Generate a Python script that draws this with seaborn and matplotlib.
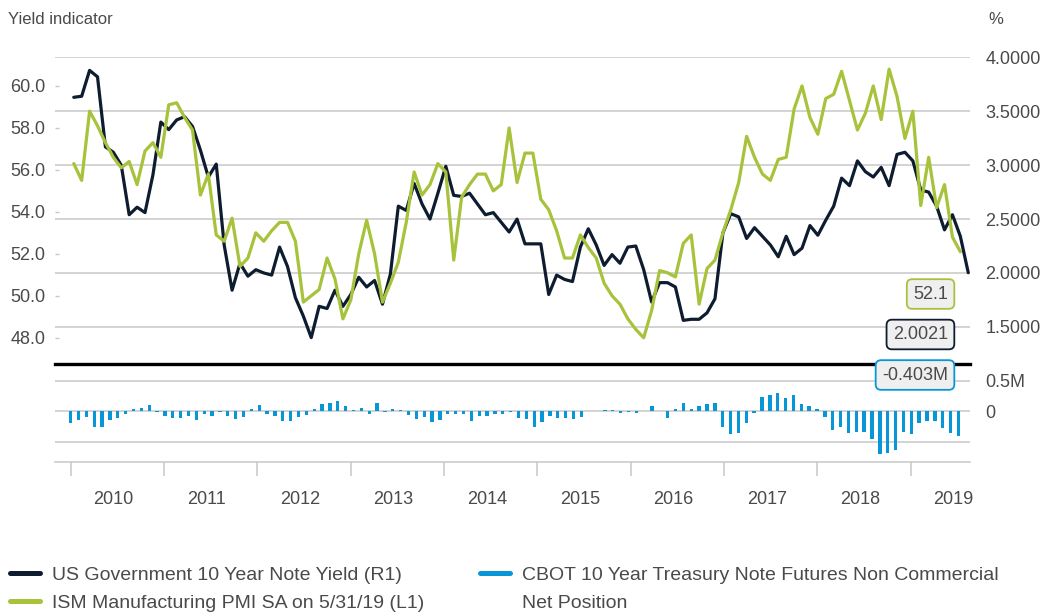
import numpy as np
import matplotlib
matplotlib.use("Agg")
import matplotlib.pyplot as plt
from matplotlib.lines import Line2D
from matplotlib.ticker import FixedLocator
import seaborn as sns

# Monthly values, first point = Jan 2010
# ISM Manufacturing PMI SA (left axis)
pmi = [
    56.3, 55.5, 58.8, 58.1, 57.3, 56.6, 56.1, 56.4, 55.3, 56.9, 57.3, 56.6,
    59.1, 59.2, 58.5, 57.9, 54.8, 55.8, 52.9, 52.6, 53.7, 51.4, 51.8, 53.0,
    52.6, 53.1, 53.5, 53.5, 52.6, 49.7, 50.0, 50.3, 51.8, 50.8, 48.9, 49.8,
    52.0, 53.6, 52.0, 49.7, 50.6, 51.6, 53.5, 55.9, 54.8, 55.3, 56.3, 55.9,
    51.7, 54.7, 55.3, 55.8, 55.8, 55.0, 55.3, 58.0, 55.4, 56.8, 56.8, 54.6,
    54.1, 53.1, 51.8, 51.8, 52.9, 52.3, 51.8, 50.6, 50.0, 49.6, 48.9, 48.4,
    48.0, 49.3, 51.2, 51.1, 50.9, 52.5, 52.9, 49.6, 51.3, 51.7, 53.0, 54.1,
    55.4, 57.6, 56.6, 55.8, 55.5, 56.5, 56.6, 58.9, 60.0, 58.5, 57.7, 59.4,
    59.6, 60.7, 59.3, 57.9, 58.7, 60.0, 58.4, 60.8, 59.5, 57.5, 58.8, 54.3,
    56.6, 54.2, 55.3, 52.8, 52.1,
]

# US Government 10 Year Note Yield, % (right axis)
yield_10y = [
    3.63, 3.64, 3.88, 3.82, 3.17, 3.12, 3.00, 2.54, 2.61, 2.56, 2.91, 3.40,
    3.33, 3.42, 3.45, 3.36, 3.14, 2.89, 3.01, 2.26, 1.84, 2.09, 1.97, 2.03,
    2.00, 1.98, 2.24, 2.06, 1.77, 1.60, 1.40, 1.69, 1.67, 1.84, 1.69, 1.80,
    1.96, 1.87, 1.93, 1.71, 1.99, 2.62, 2.58, 2.83, 2.64, 2.50, 2.74, 2.99,
    2.72, 2.71, 2.74, 2.64, 2.54, 2.56, 2.47, 2.38, 2.50, 2.27, 2.27, 2.27,
    1.80, 1.98, 1.94, 1.92, 2.24, 2.41, 2.26, 2.07, 2.17, 2.09, 2.24, 2.25,
    2.03, 1.73, 1.91, 1.91, 1.87, 1.56, 1.57, 1.57, 1.63, 1.76, 2.37, 2.55,
    2.52, 2.32, 2.42, 2.34, 2.26, 2.15, 2.34, 2.17, 2.23, 2.44, 2.35, 2.49,
    2.62, 2.88, 2.81, 3.04, 2.94, 2.89, 2.98, 2.81, 3.10, 3.12, 3.04, 2.77,
    2.75, 2.62, 2.40, 2.54, 2.34, 2.0021,
]

# CBOT 10 Year Treasury Note Futures Non Commercial Net Position, millions
cbot_net = [
    -0.19, -0.14, -0.10, -0.25, -0.25, -0.14, -0.11, -0.05, 0.03, 0.06, 0.10, -0.01,
    -0.08, -0.11, -0.11, -0.08, -0.15, -0.05, -0.07, -0.01, -0.08, -0.13, -0.10, 0.03,
    0.10, -0.05, -0.07, -0.16, -0.16, -0.10, -0.06, 0.04, 0.12, 0.14, 0.16, 0.08,
    0.02, 0.06, -0.05, 0.14, -0.01, 0.04, 0.02, -0.06, -0.13, -0.10, -0.18, -0.14,
    -0.05, -0.05, -0.05, -0.16, -0.08, -0.08, -0.05, -0.05, -0.005, -0.115, -0.13, -0.26,
    -0.18, -0.07, -0.115, -0.115, -0.13, -0.10, 0.01, 0.01, 0.02, 0.02, -0.03, -0.01,
    -0.03, 0.01, 0.08, 0.01, -0.115, 0.04, 0.14, 0.03, 0.08, 0.11, 0.14, -0.26,
    -0.37, -0.35, -0.20, -0.03, 0.24, 0.27, 0.30, 0.21, 0.26, 0.11, 0.08, 0.04,
    -0.10, -0.30, -0.26, -0.36, -0.34, -0.34, -0.46, -0.69, -0.68, -0.63, -0.34, -0.37,
    -0.20, -0.165, -0.165, -0.28, -0.35, -0.403,
]

years = list(range(2010, 2020))
pmi_ticks = [48, 50, 52, 54, 56, 58, 60]
yield_ticks = [1.5, 2.0, 2.5, 3.0, 3.5, 4.0]
net_ticks = [-0.5, 0, 0.5]
net_tick_labels = ["", "0", "0.5M"]

NAVY = "#0e1c30"
GREEN = "#a7c23b"
BLUE = "#0796d6"
GRID = "#c8c8c8"
TXT = "#4a4a4a"

sns.set_theme(style="white")
plt.rcParams["font.family"] = ["Liberation Sans", "DejaVu Sans"]

W, H = 1047, 612
fig = plt.figure(figsize=(W / 100, H / 100), dpi=100)

# points are spaced a bit tighter than a calendar month on this axis
line_x = 2010.033 + np.arange(len(yield_10y)) / 11.79
bar_x = 2010.0 + np.arange(len(cbot_net)) / 11.88
xlim = (2009.832, 2019.636)

def px(x, y):
    return x / W, 1 - y / H

# ---- bottom panel first so the black divider sits on top of it ----
ax_b = fig.add_axes([55 / W, 1 - 461.5 / H, 915 / W, 97.5 / H])
ax_b.patch.set_visible(False)
ax_b.bar(bar_x, cbot_net, width=0.036, color=BLUE, linewidth=0)
ax_b.set_xlim(*xlim)
ax_b.set_ylim(-0.82, 0.77)
ax_b.set_yticks(net_ticks)
ax_b.set_yticklabels(net_tick_labels)
ax_b.yaxis.tick_right()
ax_b.tick_params(axis="y", length=0, pad=11, labelsize=13, labelcolor=TXT)
ax_b.grid(axis="y", color=GRID, linewidth=1.1)
ax_b.set_axisbelow(True)
for s in ["top", "left", "right"]:
    ax_b.spines[s].set_visible(False)
ax_b.spines["bottom"].set_color(GRID)
ax_b.spines["bottom"].set_linewidth(1.1)

ax_b.xaxis.set_major_locator(FixedLocator(years))
ax_b.xaxis.set_minor_locator(FixedLocator([y + 0.46 for y in years]))
ax_b.set_xticklabels([""] * len(years))
ax_b.set_xticklabels([str(y) for y in years], minor=True)
ax_b.tick_params(axis="x", which="major", direction="out", length=10,
                 width=1.1, color=GRID, bottom=True)
ax_b.tick_params(axis="x", which="minor", length=0, pad=21, labelsize=13,
                 labelcolor=TXT, bottom=True)

# ---- top panel: yield (right) + PMI (left) ----
ax_y = fig.add_axes([55 / W, 1 - 364 / H, 915 / W, 307 / H])
ax_y.patch.set_visible(False)
ax_p = ax_y.twinx()

sns.lineplot(x=line_x, y=yield_10y, ax=ax_y, color=NAVY, linewidth=2.3,
             legend=False)
sns.lineplot(x=line_x[:len(pmi)], y=pmi, ax=ax_p, color=GREEN, linewidth=2.3,
             legend=False)

ax_y.set_xlim(*xlim)
ax_y.set_ylim(1.155, 4.004)
ax_y.set_yticks(yield_ticks)
ax_y.set_yticklabels([f"{v:.4f}" for v in yield_ticks])
ax_y.yaxis.tick_right()
ax_y.tick_params(axis="y", length=0, pad=11, labelsize=13, labelcolor=TXT)
ax_y.tick_params(axis="x", bottom=False, labelbottom=False)
ax_y.grid(axis="y", color=GRID, linewidth=1.1)
ax_y.set_axisbelow(True)
for s in ["top", "left", "right"]:
    ax_y.spines[s].set_visible(False)
ax_y.spines["bottom"].set_color("black")
ax_y.spines["bottom"].set_linewidth(2.4)
ax_y.spines["bottom"].set_zorder(5)

ax_p.set_ylim(46.75, 61.38)
ax_p.set_yticks(pmi_ticks)
ax_p.set_yticklabels([f"{v:.1f}" for v in pmi_ticks])
ax_p.yaxis.tick_left()
ax_p.tick_params(axis="y", direction="in", length=3, width=1, color=GRID,
                 pad=7, labelsize=13, labelcolor=TXT)
ax_p.grid(False)
for s in ax_p.spines.values():
    s.set_visible(False)
ax_y.set_xlabel("")
ax_y.set_ylabel("")
ax_p.set_ylabel("")

# ---- headers ----
fig.text(*px(8, 20), "Yield indicator", ha="left", va="center",
         fontsize=12, color=TXT)
fig.text(*px(988, 20), "%", ha="left", va="center", fontsize=12, color=TXT)

# ---- last value boxes ----
last_boxes = [
    (f"{pmi[-1]:.1f}", GREEN, 294),
    (f"{yield_10y[-1]:.4f}", NAVY, 334.5),
    (f"{cbot_net[-1]:.3f}M", BLUE, 375),
]
for txt, col, yc in last_boxes:
    fig.text(*px(948, yc), txt, ha="right", va="center", fontsize=13,
             color=TXT, zorder=10,
             bbox=dict(boxstyle="round,pad=0.35,rounding_size=0.3",
                       facecolor="#efefef", edgecolor=col, linewidth=1.3))

# ---- legend ----
leg_kw = dict(loc="upper left", frameon=False, borderpad=0, borderaxespad=0,
              handlelength=1.55, handletextpad=0.6, labelspacing=0.55,
              fontsize=14, labelcolor=TXT)
h_yield = Line2D([], [], color=NAVY, linewidth=3.6, solid_capstyle="round")
h_pmi = Line2D([], [], color=GREEN, linewidth=3.6, solid_capstyle="round")
h_cbot = Line2D([], [], color=BLUE, linewidth=3.6, solid_capstyle="round")
h_blank = Line2D([], [], color="none", linewidth=0)
fig.legend([h_yield, h_pmi],
           ["US Government 10 Year Note Yield (R1)",
            "ISM Manufacturing PMI SA on 5/31/19 (L1)"],
           bbox_to_anchor=px(10, 566), **leg_kw)
fig.legend([h_cbot, h_blank],
           ["CBOT 10 Year Treasury Note Futures Non Commercial",
            "Net Position"],
           bbox_to_anchor=px(480, 566), **leg_kw)

fig.savefig("out.png", dpi=100)
